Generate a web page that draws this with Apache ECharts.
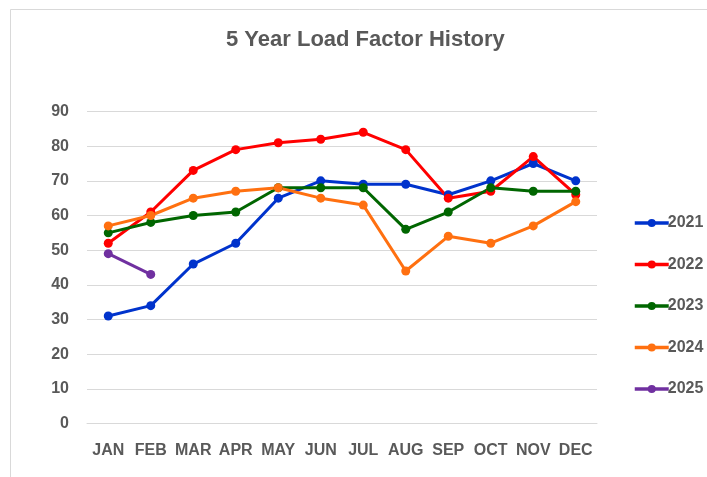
<!DOCTYPE html>
<html>
<head>
<meta charset="utf-8">
<script src="https://cdn.jsdelivr.net/npm/echarts@6/dist/echarts.min.js"></script>
<style>
html,body{margin:0;padding:0;background:#fff;}
#chart{width:707px;height:477px;}
</style>
</head>
<body>
<div id="chart"></div>
<script>
const months = ['JAN','FEB','MAR','APR','MAY','JUN','JUL','AUG','SEP','OCT','NOV','DEC'];
const y2021 = [31, 34, 46, 52, 65, 70, 69, 69, 66, 70, 75, 70];
const y2022 = [52, 61, 73, 79, 81, 82, 84, 79, 65, 67, 77, 66];
const y2023 = [55, 58, 60, 61, 68, 68, 68, 56, 61, 68, 67, 67];
const y2024 = [57, 60, 65, 67, 68, 65, 63, 44, 54, 52, 57, 64];
const y2025 = [49, 43];
const seriesNames = ['2021','2022','2023','2024','2025'];
const colors = ['#0033CC','#FF0000','#006600','#FF7010','#7030A0'];
const yTicks = {min: 0, max: 90, interval: 10};

const allData = [y2021, y2022, y2023, y2024, y2025];
const chart = echarts.init(document.getElementById('chart'));
const font = 'Liberation Sans, Arial, sans-serif';
chart.setOption({
  animation: false,
  backgroundColor: '#fff',
  title: {
    text: '5 Year Load Factor History',
    left: 221, top: 24,
    textStyle: {fontFamily: font, fontSize: 22, fontWeight: 'bold', color: '#595959'}
  },
  graphic: [{
    type: 'rect', silent: true,
    shape: {x: 10.5, y: 9.5, width: 800, height: 600},
    style: {fill: 'none', stroke: '#d9d9d9', lineWidth: 1}
  }],
  legend: {
    orient: 'vertical',
    left: 628, top: 210,
    itemWidth: 34, itemHeight: 10, itemGap: 25.5,
    lineStyle: {width: 3.5},
    textStyle: {fontFamily: font, fontSize: 16, fontWeight: 'bold', color: '#595959', lineHeight: 16, padding: [0,0,0,-6]},
    data: seriesNames
  },
  grid: {left: 87, right: 110, top: 111.5, bottom: 53.5, containLabel: false},
  xAxis: {
    type: 'category', data: months, boundaryGap: true,
    axisLine: {lineStyle: {color: '#d9d9d9', width: 1}},
    axisTick: {show: false},
    axisLabel: {fontFamily: font, fontSize: 16, fontWeight: 'bold', color: '#595959', margin: 19, interval: 0}
  },
  yAxis: {
    type: 'value', min: yTicks.min, max: yTicks.max, interval: yTicks.interval,
    axisLine: {show: false}, axisTick: {show: false},
    splitLine: {lineStyle: {color: '#d9d9d9', width: 1}},
    axisLabel: {fontFamily: font, fontSize: 16, fontWeight: 'bold', color: '#595959', margin: 18}
  },
  series: seriesNames.map((n, i) => ({
    name: n, type: 'line', data: allData[i],
    symbol: 'circle', symbolSize: 9,
    lineStyle: {width: 3, color: colors[i]},
    itemStyle: {color: colors[i]},
    color: colors[i]
  }))
});
</script>
</body>
</html>
